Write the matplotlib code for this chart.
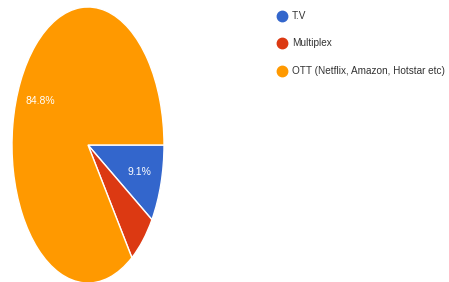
import matplotlib.pyplot as plt
from matplotlib.lines import Line2D

labels = ['T.V', 'Multiplex', 'OTT (Netflix, Amazon, Hotstar etc)']
shares = [9.1, 6.1, 84.8]
colors = ['#3366cc', '#dc3912', '#ff9900']

W, H = 449, 282
fig = plt.figure(figsize=(W / 100, H / 100), dpi=100)

# pie is squashed horizontally in the reference, so axes aspect is not equal
cx, cy, rx, ry = 88, 145, 76, 138
ax = fig.add_axes([(cx - rx) / W, (H - cy - ry) / H, 2 * rx / W, 2 * ry / H])


def fmt(p):
    return '%.1f%%' % p if p > 8 else ''


wedges, texts, autotexts = ax.pie(
    shares, colors=colors, startangle=0, counterclock=False,
    autopct=fmt, pctdistance=0.7,
    wedgeprops=dict(edgecolor='white', linewidth=1),
    textprops=dict(color='white', fontsize=7.5, family='Liberation Sans'))
ax.set_aspect('auto')
ax.set_xlim(-1, 1)
ax.set_ylim(-1, 1)
ax.axis('off')

handles = [Line2D([], [], marker='o', linestyle='none', markersize=7.5,
                  markerfacecolor=c, markeredgecolor=c) for c in colors]
fig.legend(handles, labels, loc='upper left',
           bbox_to_anchor=(267 / W, 1 - 2 / H), frameon=False,
           handletextpad=0.4, labelspacing=1.75, handlelength=1.2,
           prop=dict(size=7.2, family='Liberation Sans'),
           labelcolor='#333333')

fig.savefig('out.png', dpi=100)
